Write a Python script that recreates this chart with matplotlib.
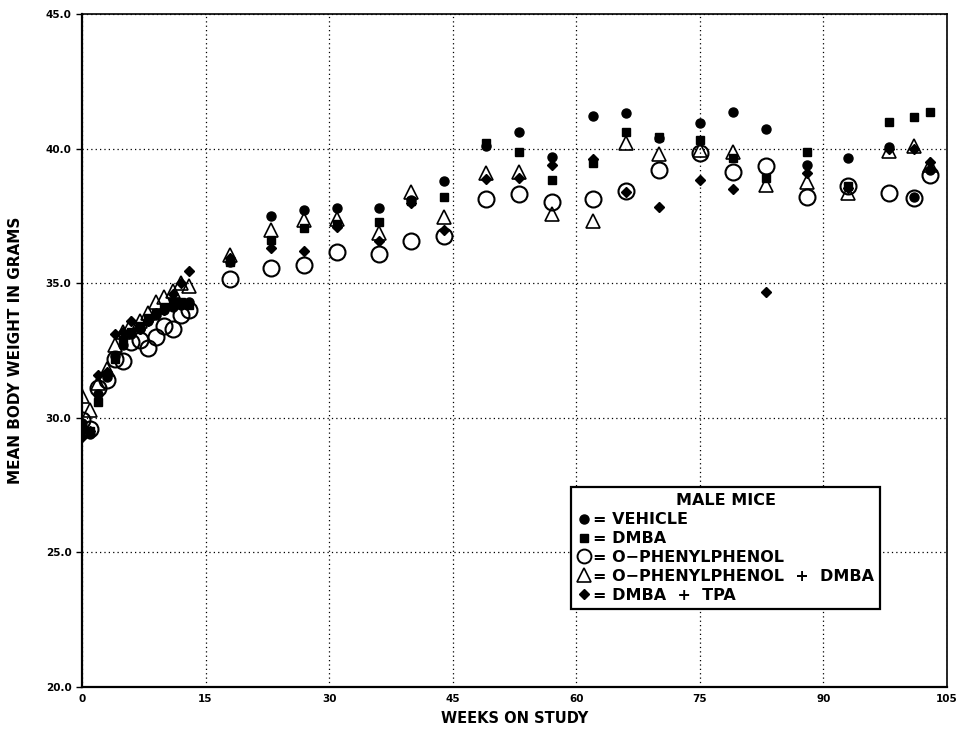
import matplotlib
matplotlib.use("Agg")
import matplotlib.pyplot as plt
from matplotlib.lines import Line2D

early_weeks = [0, 1, 2, 3, 4, 5, 6, 7, 8, 9, 10, 11, 12, 13]
late_weeks = [18, 23, 27, 31, 36, 40, 44, 49, 53, 57, 62, 66, 70, 75, 79, 83, 88, 93, 98, 101, 103]
weeks = early_weeks + late_weeks

vehicle = [29.8, 29.4, 30.9, 31.5, 32.3, 32.7, 33.1, 33.3, 33.6, 33.8, 34.0, 34.1, 34.2, 34.3,
           35.8, 37.5, 37.72, 37.8, 37.8, 38.1, 38.8, 40.1, 40.6, 39.7, 41.22, 41.33, 40.4, 40.94,
           41.35, 40.73, 39.39, 39.64, 40.05, 38.2, 39.2]
dmba = [29.6, 29.5, 30.6, 31.6, 32.2, 32.9, 33.2, 33.4, 33.7, 33.9, 34.1, 34.3, 34.3, 34.2,
        35.8, 36.6, 37.05, 37.2, 37.28, 38.05, 38.21, 40.2, 39.88, 38.83, 39.45, 40.63, 40.41, 40.32,
        39.64, 38.9, 39.86, 38.6, 40.98, 41.16, 41.37]
opp = [29.9, 29.6, 31.1, 31.4, 32.2, 32.1, 32.8, 32.9, 32.6, 33.0, 33.4, 33.3, 33.8, 34.0,
       35.15, 35.56, 35.68, 36.17, 36.08, 36.57, 36.75, 38.12, 38.31, 38.03, 38.13, 38.42, 39.2, 39.83,
       39.14, 39.35, 38.21, 38.6, 38.34, 38.15, 39.02]
opp_dmba = [30.8, 30.3, 31.3, 31.8, 32.7, 33.2, 33.5, 33.6, 33.9, 34.3, 34.5, 34.7, 35.0, 34.9,
            36.05, 36.97, 37.35, 37.4, 36.86, 38.4, 37.47, 39.08, 39.14, 37.57, 37.31, 40.22, 39.8, 39.95,
            39.88, 38.65, 38.77, 38.34, 39.9, 40.1, 39.4]
dmba_tpa = [29.3, 29.5, 31.6, 31.7, 33.1, 33.2, 33.6, 33.3, 33.6, 33.9, 34.0, 34.6, 35.0, 35.45,
            35.95, 36.3, 36.2, 37.1, 36.58, 37.98, 36.98, 38.86, 38.92, 39.39, 39.6, 38.4, 37.84, 38.83,
            38.5, 34.66, 39.08, 38.55, 40.0, 40.0, 39.5]

x_ticks = [0, 15, 30, 45, 60, 75, 90, 105]
y_ticks = [20.0, 25.0, 30.0, 35.0, 40.0, 45.0]
legend_labels = ["= VEHICLE", "= DMBA", "= O\u2212PHENYLPHENOL", "= O\u2212PHENYLPHENOL  +  DMBA", "= DMBA  +  TPA"]

fig = plt.figure(figsize=(9.61, 7.33), dpi=100)
ax = fig.add_axes([0.0853, 0.0628, 0.9001, 0.9182])

ax.plot(weeks, opp, linestyle="none", marker="o", ms=11.5, mfc="none", mec="black", mew=1.5, zorder=3)
ax.plot(weeks, opp_dmba, linestyle="none", marker="^", ms=10, mfc="none", mec="black", mew=1.2, zorder=3)
ax.plot(weeks, vehicle, linestyle="none", marker="o", ms=6.5, mfc="black", mec="black", zorder=4)
ax.plot(weeks, dmba, linestyle="none", marker="s", ms=6, mfc="black", mec="black", zorder=4)
ax.plot(weeks, dmba_tpa, linestyle="none", marker="D", ms=5.5, mfc="black", mec="black", zorder=4)

ax.set_xlim(0, 105)
ax.set_ylim(20, 45)
ax.set_xticks(x_ticks)
ax.set_xticklabels([str(v) for v in x_ticks], fontsize=7.5, fontweight="bold")
ax.set_yticks(y_ticks)
ax.set_yticklabels([f"{v:.1f}" for v in y_ticks], fontsize=7.5, fontweight="bold")
ax.tick_params(axis="both", direction="out", length=4, width=1)
ax.tick_params(axis="x", length=0, pad=5)
ax.grid(True, linestyle=(0, (1, 2.5)), color="black", linewidth=0.9)
for s in ax.spines.values():
    s.set_linewidth(1.2)
ax.spines["left"].set_linewidth(1.6)
ax.spines["bottom"].set_linewidth(1.6)

ax.set_xlabel("WEEKS ON STUDY", fontsize=10.5, fontweight="bold", labelpad=5)
ax.set_ylabel("MEAN BODY WEIGHT IN GRAMS", fontsize=11, fontweight="bold", labelpad=16)

handles = [
    Line2D([], [], linestyle="none", marker="o", ms=6.5, mfc="black", mec="black"),
    Line2D([], [], linestyle="none", marker="s", ms=5.5, mfc="black", mec="black"),
    Line2D([], [], linestyle="none", marker="o", ms=10, mfc="none", mec="black", mew=1.4),
    Line2D([], [], linestyle="none", marker="^", ms=9.5, mfc="none", mec="black", mew=1.2),
    Line2D([], [], linestyle="none", marker="D", ms=5.5, mfc="black", mec="black"),
]
leg = ax.legend(handles, legend_labels, title="MALE MICE", loc="upper left",
                bbox_to_anchor=(0.565, 0.297), frameon=True, fancybox=False,
                edgecolor="black", framealpha=1, fontsize=11.5, title_fontsize=11.5,
                handlelength=0.9, handletextpad=0.1, labelspacing=0.24,
                borderpad=0.4, borderaxespad=0, alignment="center")
leg.get_frame().set_linewidth(1.6)
leg.get_title().set_fontweight("bold")
for t in leg.get_texts():
    t.set_fontweight("bold")
leg.set_zorder(10)

fig.savefig("out.png", dpi=100)
